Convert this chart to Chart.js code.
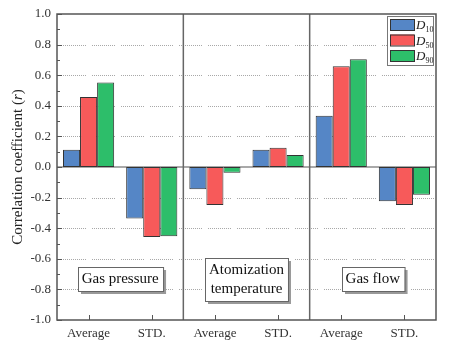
<!DOCTYPE html>
<html>
<head>
<meta charset="utf-8">
<script src="https://cdn.jsdelivr.net/npm/chart.js@4.4.0/dist/chart.umd.min.js"></script>
<style>
  html, body { margin: 0; padding: 0; background: #fff; }
  #wrap { width: 453px; height: 346px; }
</style>
</head>
<body>
<div id="wrap"><canvas id="grafico"></canvas></div>
<script>
// data
const categories = ['Average', 'STD.', 'Average', 'STD.', 'Average', 'STD.'];
const groupNames = [['Gas pressure'], ['Atomization', 'temperature'], ['Gas flow']];
const seriesBase = ['D', 'D', 'D'];
const seriesSub = ['10', '50', '90'];
const d10 = [0.113, -0.336, -0.146, 0.113, 0.335, -0.224];
const d50 = [0.458, -0.458, -0.248, 0.126, 0.658, -0.248];
const d90 = [0.553, -0.452, -0.037, 0.079, 0.704, -0.182];
const yTicks = [-1.0, -0.8, -0.6, -0.4, -0.2, 0.0, 0.2, 0.4, 0.6, 0.8, 1.0];
const yTitle = ['Correlation coefficient (', 'r', ')'];

const cores = ['#5586c6', '#f75a5a', '#2dbe6a'];
const serif = '"Liberation Serif", "DejaVu Serif", serif';

// dotted segments with small gaps, like the original grid
const gridDash = [];
for (let i = 0; i < 12; i++) gridDash.push(1, 1);
gridDash[gridDash.length - 1] = 6;

const extras = {
    id: 'extras',
    beforeDatasetsDraw(chart) {
        const { ctx, chartArea: a, scales: { y } } = chart;
        ctx.save();
        // dotted grid
        ctx.strokeStyle = '#a8a8a8';
        ctx.lineWidth = 1;
        ctx.setLineDash(gridDash);
        yTicks.forEach(v => {
            if (Math.abs(v) < 1e-9 || Math.abs(v) > 0.99) return;
            const py = Math.round(y.getPixelForValue(v)) + 0.5;
            ctx.beginPath();
            ctx.moveTo(a.left + 6, py);
            ctx.lineTo(a.right, py);
            ctx.stroke();
        });
        ctx.setLineDash([]);
        // zero line
        const y0 = y.getPixelForValue(0);
        ctx.strokeStyle = '#555';
        ctx.lineWidth = 1.2;
        ctx.beginPath();
        ctx.moveTo(a.left, y0);
        ctx.lineTo(a.right, y0);
        ctx.stroke();
        // y title with italic r
        ctx.translate(18, (a.top + a.bottom) / 2);
        ctx.rotate(-Math.PI / 2);
        ctx.fillStyle = '#222';
        ctx.textBaseline = 'middle';
        ctx.textAlign = 'left';
        const fonts = ['15px ' + serif, 'italic 15px ' + serif, '15px ' + serif];
        let total = 0;
        yTitle.forEach((t, i) => { ctx.font = fonts[i]; total += ctx.measureText(t).width; });
        let tx = -total / 2;
        yTitle.forEach((t, i) => {
            ctx.font = fonts[i];
            ctx.fillText(t, tx, 0);
            tx += ctx.measureText(t).width;
        });
        ctx.restore();
    },
    afterDatasetsDraw(chart) {
        const { ctx, chartArea: a, scales: { x, y } } = chart;
        ctx.save();
        // group dividers
        ctx.strokeStyle = '#666';
        ctx.lineWidth = 1.5;
        [1, 3].forEach(i => {
            const px = (x.getPixelForValue(i) + x.getPixelForValue(i + 1)) / 2;
            ctx.beginPath();
            ctx.moveTo(px, a.top);
            ctx.lineTo(px, a.bottom);
            ctx.stroke();
        });
        // frame
        ctx.strokeStyle = '#555';
        ctx.lineWidth = 1.5;
        ctx.strokeRect(a.left, a.top, a.right - a.left, a.bottom - a.top);
        // inward ticks on y
        ctx.lineWidth = 1;
        for (let k = -10; k <= 10; k++) {
            const py = Math.round(y.getPixelForValue(k / 10)) + 0.5;
            const len = k % 2 === 0 ? 5 : 3;
            ctx.beginPath();
            ctx.moveTo(a.left, py);
            ctx.lineTo(a.left + len, py);
            ctx.stroke();
        }
        // inward ticks on x
        categories.forEach((c, i) => {
            const px = Math.round(x.getPixelForValue(i)) + 0.5;
            ctx.beginPath();
            ctx.moveTo(px, a.bottom);
            ctx.lineTo(px, a.bottom - 5);
            ctx.stroke();
        });
        // group labels in boxes
        ctx.font = '15px ' + serif;
        ctx.textAlign = 'center';
        ctx.textBaseline = 'middle';
        groupNames.forEach((lines, g) => {
            const cx = (x.getPixelForValue(g * 2) + x.getPixelForValue(g * 2 + 1)) / 2;
            const cy = y.getPixelForValue(-0.735);
            const lh = 19;
            const w = Math.max(...lines.map(t => ctx.measureText(t).width)) + 8;
            const h = lines.length * lh + 5;
            const bx = Math.round(cx - w / 2), by = Math.round(cy - h / 2);
            ctx.fillStyle = '#999';
            ctx.fillRect(bx + 3, by + 3, w, h);
            ctx.fillStyle = '#fff';
            ctx.fillRect(bx, by, w, h);
            ctx.strokeStyle = '#666';
            ctx.lineWidth = 1;
            ctx.strokeRect(bx + 0.5, by + 0.5, w, h);
            ctx.fillStyle = '#111';
            lines.forEach((t, j) => {
                ctx.fillText(t, cx, cy + (j - (lines.length - 1) / 2) * lh);
            });
        });
        // legend
        const lx = a.right - 49, ly = a.top + 2, lw = 46, lhgt = 49;
        ctx.fillStyle = '#fff';
        ctx.fillRect(lx, ly, lw, lhgt);
        ctx.strokeStyle = '#777';
        ctx.lineWidth = 1;
        ctx.strokeRect(lx + 0.5, ly + 0.5, lw, lhgt);
        chart.data.datasets.forEach((ds, i) => {
            const sy = ly + 3 + i * 15.5;
            ctx.fillStyle = ds.backgroundColor;
            ctx.fillRect(lx + 3, sy, 24, 11);
            ctx.strokeStyle = '#333';
            ctx.strokeRect(lx + 3.5, sy + 0.5, 24, 11);
            ctx.fillStyle = '#222';
            ctx.textAlign = 'left';
            ctx.textBaseline = 'alphabetic';
            ctx.font = 'italic 13px ' + serif;
            ctx.fillText(seriesBase[i], lx + 29, sy + 10);
            const dw = ctx.measureText(seriesBase[i]).width;
            ctx.font = '8px ' + serif;
            ctx.fillText(seriesSub[i], lx + 29 + dw, sy + 13);
        });
        ctx.restore();
    }
};

function montarDataset(label, data, cor) {
    return {
        label: label,
        data: data,
        backgroundColor: cor,
        borderColor: '#333',
        borderWidth: 1,
        borderSkipped: false,
        categoryPercentage: 0.81,
        barPercentage: 1.0
    };
}

new Chart(document.getElementById('grafico').getContext('2d'), {
    type: 'bar',
    data: {
        labels: categories,
        datasets: [
            montarDataset('D10', d10, cores[0]),
            montarDataset('D50', d50, cores[1]),
            montarDataset('D90', d90, cores[2])
        ]
    },
    options: {
        responsive: true,
        maintainAspectRatio: false,
        animation: false,
        layout: { padding: { top: 14, right: 17, left: 0, bottom: 0 } },
        plugins: { legend: { display: false }, tooltip: { enabled: false } },
        scales: {
            x: {
                grid: { display: false, drawTicks: false },
                border: { display: false },
                ticks: { color: '#333', font: { family: serif, size: 13 }, padding: 6, maxRotation: 0 },
                afterFit(s) { s.height = 26; }
            },
            y: {
                min: -1, max: 1,
                afterBuildTicks(s) { s.ticks = yTicks.map(v => ({ value: v })); },
                grid: { display: false, drawTicks: false },
                border: { display: false },
                ticks: {
                    color: '#333',
                    font: { family: serif, size: 13 },
                    padding: 6,
                    callback: v => v.toFixed(1)
                },
                afterFit(s) { s.width = 57; }
            }
        }
    },
    plugins: [extras]
});
</script>
</body>
</html>
